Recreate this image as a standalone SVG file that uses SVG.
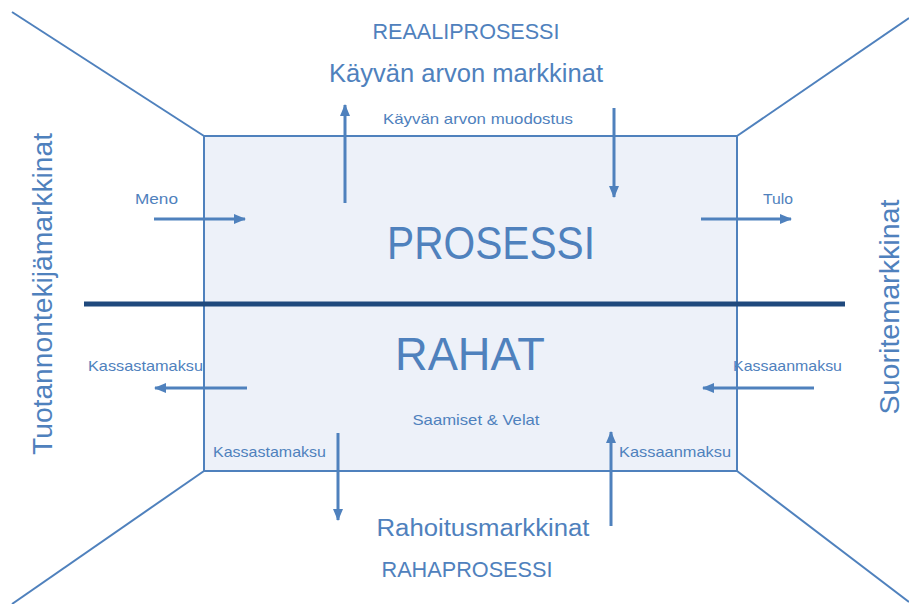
<svg xmlns="http://www.w3.org/2000/svg" width="909" height="604" viewBox="0 0 909 604">
<style>
text{font-family:"Liberation Sans",Arial,sans-serif;fill:#4f81bd}
.persp{stroke:#4f81bd;stroke-width:2;fill:none}
.arr{stroke:#4f81bd;stroke-width:3;fill:none;marker-end:url(#ah)}
.s{font-size:15px}
</style>
<defs>
<marker id="ah" markerUnits="userSpaceOnUse" markerWidth="12" markerHeight="10" refX="11" refY="5" orient="auto">
<path d="M0,0 L12,5 L0,10 Z" fill="#4f81bd"/>
</marker>
</defs>
<g id="perspective">
<line class="persp" x1="12" y1="12" x2="204" y2="136"/>
<line class="persp" x1="909" y1="18" x2="737" y2="136"/>
<line class="persp" x1="204" y1="471" x2="12" y2="604"/>
<line class="persp" x1="737" y1="471" x2="909" y2="602"/>
</g>
<g id="box">
<rect x="204" y="136" width="533" height="335" fill="#edf1f9" stroke="#4f81bd" stroke-width="2"/>
<text x="491" y="259" font-size="47" text-anchor="middle" textLength="208" lengthAdjust="spacingAndGlyphs">PROSESSI</text>
<text x="470" y="370" font-size="46" text-anchor="middle" textLength="150" lengthAdjust="spacingAndGlyphs">RAHAT</text>
<text class="s" x="476" y="425" text-anchor="middle" textLength="127" lengthAdjust="spacingAndGlyphs">Saamiset &amp; Velat</text>
</g>
<g id="divider">
<line x1="84" y1="304" x2="845" y2="304" stroke="#1f497d" stroke-width="5"/>
</g>
<g id="top-labels">
<text x="466" y="39" font-size="22" text-anchor="middle" textLength="187" lengthAdjust="spacingAndGlyphs">REAALIPROSESSI</text>
<text x="466" y="82" font-size="25" text-anchor="middle" textLength="274" lengthAdjust="spacingAndGlyphs">Käyvän arvon markkinat</text>
<text class="s" x="478" y="124" text-anchor="middle" textLength="190" lengthAdjust="spacingAndGlyphs">Käyvän arvon muodostus</text>
</g>
<g id="bottom-labels">
<text x="483" y="536" font-size="23" text-anchor="middle" textLength="213" lengthAdjust="spacingAndGlyphs">Rahoitusmarkkinat</text>
<text x="467" y="577" font-size="22" text-anchor="middle" textLength="171" lengthAdjust="spacingAndGlyphs">RAHAPROSESSI</text>
</g>
<g id="side-labels">
<text transform="translate(52,294) rotate(-90)" font-size="27" text-anchor="middle" textLength="322" lengthAdjust="spacingAndGlyphs">Tuotannontekijämarkkinat</text>
<text transform="translate(899,307) rotate(-90)" font-size="27" text-anchor="middle" textLength="215" lengthAdjust="spacingAndGlyphs">Suoritemarkkinat</text>
</g>
<g id="flow-labels">
<text class="s" x="135" y="204" textLength="43" lengthAdjust="spacingAndGlyphs">Meno</text>
<text class="s" x="763" y="204" textLength="30" lengthAdjust="spacingAndGlyphs">Tulo</text>
<text class="s" x="88" y="371" textLength="115" lengthAdjust="spacingAndGlyphs">Kassastamaksu</text>
<text class="s" x="733" y="371" textLength="109" lengthAdjust="spacingAndGlyphs">Kassaanmaksu</text>
<text class="s" x="213" y="457" textLength="113" lengthAdjust="spacingAndGlyphs">Kassastamaksu</text>
<text class="s" x="619" y="457" textLength="112" lengthAdjust="spacingAndGlyphs">Kassaanmaksu</text>
</g>
<g id="connectors">
<line class="arr" x1="345" y1="203" x2="345" y2="105"/>
<line class="arr" x1="614" y1="108" x2="614" y2="197"/>
<line class="arr" x1="154" y1="219" x2="245" y2="219"/>
<line class="arr" x1="701" y1="219" x2="791" y2="219"/>
<line class="arr" x1="247" y1="388" x2="155" y2="388"/>
<line class="arr" x1="814" y1="388" x2="703" y2="388"/>
<line class="arr" x1="338" y1="433" x2="338" y2="520"/>
<line class="arr" x1="611" y1="526" x2="611" y2="432"/>
</g>
</svg>
